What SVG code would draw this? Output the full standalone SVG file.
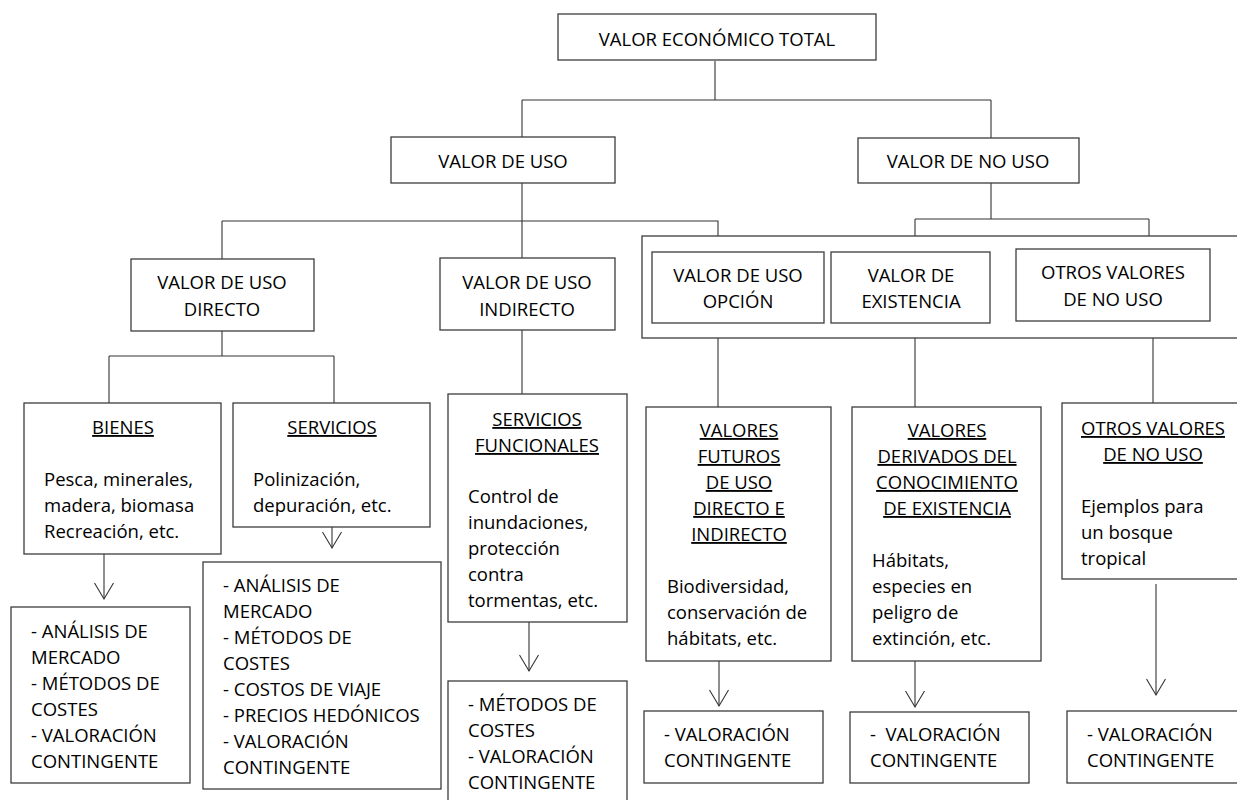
<svg xmlns="http://www.w3.org/2000/svg" width="1237" height="800" viewBox="0 0 1237 800">
<style>
  .box { fill: #fff; stroke: #3c3c3c; stroke-width: 1.3; }
  .t { font-family: "Open Sans", "Noto Sans", "Liberation Sans", sans-serif; font-size: 18.5px; fill: #000; white-space: pre; }
  .c { text-anchor: middle; }
  .u { text-decoration: underline; }
  .conn path { fill: none; stroke: #333; stroke-width: 1.1; }
  .arr { marker-end: url(#v); }
</style>
<defs>
  <marker id="v" markerUnits="userSpaceOnUse" markerWidth="20" markerHeight="20" orient="auto" overflow="visible" refX="0" refY="0">
    <path d="M-16,-9.5 L0,0 L-16,9.5" fill="none" stroke="#333" stroke-width="1.1"/>
  </marker>
</defs>
<rect width="1237" height="800" fill="#fff"/>

<g id="conectores" class="conn">
  <path d="M715,61 V100"/>
  <path d="M522,100 H991"/>
  <path d="M522,100 V137"/>
  <path d="M991,100 V138"/>
  <path d="M522,183 V258"/>
  <path d="M222,221 H718 V236"/>
  <path d="M222,221 V259"/>
  <path d="M991,183 V219"/>
  <path d="M915,219 H1149"/>
  <path d="M915,219 V236"/>
  <path d="M1149,219 V236"/>
  <path d="M222,331 V356"/>
  <path d="M109,356 H334"/>
  <path d="M109,356 V403"/>
  <path d="M334,356 V403"/>
  <path d="M522,330 V394"/>
  <path d="M718,338 V407"/>
  <path d="M915,335 V407"/>
  <path d="M1153,338 V403"/>
  <path class="arr" d="M104,554 V599"/>
  <path class="arr" d="M332,527 V548"/>
  <path class="arr" d="M529,622 V671"/>
  <path class="arr" d="M719,661 V706"/>
  <path class="arr" d="M915,661 V707"/>
  <path class="arr" d="M1156,584 V695"/>
</g>

<g id="valor-economico-total">
  <rect class="box" x="558" y="14" width="318" height="46"/>
  <text class="t c" x="717" y="46">VALOR ECONÓMICO TOTAL</text>
</g>

<g id="valor-de-uso">
  <rect class="box" x="391" y="137" width="224" height="46"/>
  <text class="t c" x="503" y="168">VALOR DE USO</text>
</g>

<g id="valor-de-no-uso">
  <rect class="box" x="858" y="138" width="221" height="45"/>
  <text class="t c" x="968" y="168">VALOR DE NO USO</text>
</g>

<g id="uso-directo">
  <rect class="box" x="131" y="259" width="183" height="72"/>
  <text class="t c" x="222" y="289">VALOR DE USO</text>
  <text class="t c" x="222" y="316">DIRECTO</text>
</g>

<g id="uso-indirecto">
  <rect class="box" x="440" y="258" width="175" height="72"/>
  <text class="t c" x="527" y="289">VALOR DE USO</text>
  <text class="t c" x="527" y="316">INDIRECTO</text>
</g>

<g id="grupo-no-uso">
  <rect class="box" x="642" y="236" width="610" height="102"/>
</g>

<g id="uso-opcion">
  <rect class="box" x="652" y="252" width="172" height="71"/>
  <text class="t c" x="738" y="282">VALOR DE USO</text>
  <text class="t c" x="738" y="308">OPCIÓN</text>
</g>

<g id="existencia">
  <rect class="box" x="831" y="252" width="159" height="71"/>
  <text class="t c" x="911" y="282">VALOR DE</text>
  <text class="t c" x="911" y="308">EXISTENCIA</text>
</g>

<g id="otros-valores">
  <rect class="box" x="1016" y="249" width="194" height="72"/>
  <text class="t c" x="1113" y="279">OTROS VALORES</text>
  <text class="t c" x="1113" y="306">DE NO USO</text>
</g>

<g id="bienes">
  <rect class="box" x="24" y="403" width="197" height="151"/>
  <text class="t c u" x="123" y="434">BIENES</text>
  <text class="t" x="44" y="486">Pesca, minerales,</text>
  <text class="t" x="44" y="512">madera, biomasa</text>
  <text class="t" x="44" y="538">Recreación, etc.</text>
</g>

<g id="servicios">
  <rect class="box" x="233" y="403" width="197" height="124"/>
  <text class="t c u" x="332" y="434">SERVICIOS</text>
  <text class="t" x="253" y="486">Polinización,</text>
  <text class="t" x="253" y="512">depuración, etc.</text>
</g>

<g id="servicios-funcionales">
  <rect class="box" x="448" y="394" width="179" height="228"/>
  <text class="t c u" x="537" y="426">SERVICIOS</text>
  <text class="t c u" x="537" y="452">FUNCIONALES</text>
  <text class="t" x="468" y="503">Control de</text>
  <text class="t" x="468" y="529">inundaciones,</text>
  <text class="t" x="468" y="555">protección</text>
  <text class="t" x="468" y="581">contra</text>
  <text class="t" x="468" y="607">tormentas, etc.</text>
</g>

<g id="valores-futuros">
  <rect class="box" x="646" y="407" width="185" height="254"/>
  <text class="t c u" x="739" y="437">VALORES</text>
  <text class="t c u" x="739" y="463">FUTUROS</text>
  <text class="t c u" x="739" y="489">DE USO</text>
  <text class="t c u" x="739" y="515">DIRECTO E</text>
  <text class="t c u" x="739" y="541">INDIRECTO</text>
  <text class="t" x="667" y="593">Biodiversidad,</text>
  <text class="t" x="667" y="619">conservación de</text>
  <text class="t" x="667" y="645">hábitats, etc.</text>
</g>

<g id="valores-derivados">
  <rect class="box" x="852" y="407" width="189" height="254"/>
  <text class="t c u" x="947" y="437">VALORES</text>
  <text class="t c u" x="947" y="463">DERIVADOS DEL</text>
  <text class="t c u" x="947" y="489">CONOCIMIENTO</text>
  <text class="t c u" x="947" y="515">DE EXISTENCIA</text>
  <text class="t" x="872" y="567">Hábitats,</text>
  <text class="t" x="872" y="593">especies en</text>
  <text class="t" x="872" y="619">peligro de</text>
  <text class="t" x="872" y="645">extinción, etc.</text>
</g>

<g id="otros-valores-detalle">
  <rect class="box" x="1062" y="403" width="190" height="176"/>
  <text class="t c u" x="1153" y="435">OTROS VALORES</text>
  <text class="t c u" x="1153" y="461">DE NO USO</text>
  <text class="t" x="1081" y="513">Ejemplos para</text>
  <text class="t" x="1081" y="539">un bosque</text>
  <text class="t" x="1081" y="565">tropical</text>
</g>

<g id="metodos-bienes">
  <rect class="box" x="11" y="607" width="179" height="176"/>
  <text class="t" x="31" y="638">- ANÁLISIS DE</text>
  <text class="t" x="31" y="664">MERCADO</text>
  <text class="t" x="31" y="690">- MÉTODOS DE</text>
  <text class="t" x="31" y="716">COSTES</text>
  <text class="t" x="31" y="742">- VALORACIÓN</text>
  <text class="t" x="31" y="768">CONTINGENTE</text>
</g>

<g id="metodos-servicios">
  <rect class="box" x="203" y="562" width="238" height="227"/>
  <text class="t" x="223" y="592">- ANÁLISIS DE</text>
  <text class="t" x="223" y="618">MERCADO</text>
  <text class="t" x="223" y="644">- MÉTODOS DE</text>
  <text class="t" x="223" y="670">COSTES</text>
  <text class="t" x="223" y="696">- COSTOS DE VIAJE</text>
  <text class="t" x="223" y="722">- PRECIOS HEDÓNICOS</text>
  <text class="t" x="223" y="748">- VALORACIÓN</text>
  <text class="t" x="223" y="774">CONTINGENTE</text>
</g>

<g id="metodos-funcionales">
  <rect class="box" x="448" y="681" width="179" height="130"/>
  <text class="t" x="468" y="711">- MÉTODOS DE</text>
  <text class="t" x="468" y="737">COSTES</text>
  <text class="t" x="468" y="763">- VALORACIÓN</text>
  <text class="t" x="468" y="789">CONTINGENTE</text>
</g>

<g id="metodo-futuros">
  <rect class="box" x="644" y="711" width="179" height="72"/>
  <text class="t" x="664" y="741">- VALORACIÓN</text>
  <text class="t" x="664" y="767">CONTINGENTE</text>
</g>

<g id="metodo-derivados">
  <rect class="box" x="850" y="712" width="179" height="71"/>
  <text class="t" x="870" y="741">-  VALORACIÓN</text>
  <text class="t" x="870" y="767">CONTINGENTE</text>
</g>

<g id="metodo-otros">
  <rect class="box" x="1067" y="711" width="190" height="72"/>
  <text class="t" x="1087" y="741">- VALORACIÓN</text>
  <text class="t" x="1087" y="767">CONTINGENTE</text>
</g>
</svg>
